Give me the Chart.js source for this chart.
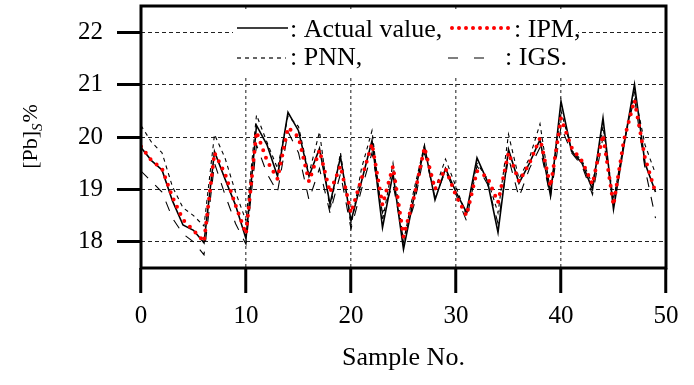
<!DOCTYPE html>
<html>
<head>
<meta charset="utf-8">
<script src="https://cdn.jsdelivr.net/npm/chart.js@4.4.1/dist/chart.umd.min.js"></script>
<style>
  html, body { margin: 0; padding: 0; background: #fff; }
  #chart { display: block; }
</style>
</head>
<body>
<canvas id="chart" width="694" height="385"></canvas>
<script>
const SERIF = '"Liberation Serif", "Times New Roman", serif';

// sample numbers (x)
const sampleNo = [0,1,2,3,4,5,6,7,8,9,10,11,12,13,14,15,16,17,18,19,20,21,22,23,24,
  25,26,27,28,29,30,31,32,33,34,35,36,37,38,39,40,41,42,43,44,45,46,47,48,49];

// [Pb]s % values
const actualValue = [19.80,19.55,19.37,18.78,18.32,18.22,17.98,19.72,19.20,18.70,
  18.06,20.22,19.85,19.25,20.47,20.12,19.25,19.78,18.72,19.62,
  18.40,19.15,19.93,18.27,19.30,17.86,18.85,19.82,18.80,19.40,
  18.95,18.56,19.60,19.15,18.18,19.76,19.12,19.50,19.95,18.88,
  20.68,19.73,19.50,19.00,20.36,18.62,19.85,21.00,19.50,18.95];
const ipmValues = [19.82,19.55,19.40,18.85,18.42,18.22,18.00,19.70,19.30,18.70,
  18.15,20.10,19.55,19.20,20.18,20.00,19.15,19.75,18.94,19.45,
  18.55,19.20,19.87,18.70,19.44,18.10,18.85,19.80,19.00,19.40,
  18.88,18.50,19.35,19.23,18.75,19.70,19.15,19.50,19.98,19.05,
  20.36,19.80,19.54,19.10,20.04,18.70,19.95,20.70,19.60,18.94];
const pnnValues = [20.22,19.90,19.70,19.05,18.65,18.50,18.30,20.05,19.60,18.95,
  18.40,20.42,19.90,19.40,20.40,20.20,19.30,20.10,18.60,19.70,
  18.30,19.40,20.12,18.40,19.50,18.00,19.00,19.85,19.00,19.58,
  19.05,18.50,19.50,19.20,18.55,20.05,19.20,19.60,20.25,18.95,
  20.50,19.75,19.55,19.10,20.20,18.80,19.90,20.85,19.85,19.30];
const igsValues = [19.35,19.15,18.95,18.45,18.15,18.00,17.75,19.50,18.90,18.35,
  17.95,19.85,19.30,18.95,20.10,19.70,18.80,19.40,18.55,19.30,
  18.25,19.00,19.70,18.55,19.10,18.05,18.70,19.70,18.85,19.35,
  18.90,18.40,19.45,19.10,18.35,19.60,18.85,19.40,19.80,18.85,
  20.20,19.70,19.45,18.90,20.00,18.75,19.90,20.75,19.40,18.45];

const xTicks = [0, 10, 20, 30, 40, 50];
const yTicks = [18, 19, 20, 21, 22];

function pts(arr) { return sampleNo.map((n, i) => ({ x: n, y: arr[i] })); }

// thick frame round the plot
const framePlugin = {
  id: 'frame',
  afterDatasetsDraw(chart) {
    const { ctx, chartArea: a } = chart;
    ctx.save();
    ctx.strokeStyle = '#000';
    ctx.lineWidth = 3;
    ctx.setLineDash([]);
    ctx.strokeRect(a.left, a.top, a.right - a.left, a.bottom - a.top);
    ctx.restore();
  }
};

// legend box inside the plot, plus the axis titles
const textPlugin = {
  id: 'texts',
  afterDraw(chart) {
    const c = chart.ctx;
    const a = chart.chartArea;
    c.save();
    c.fillStyle = '#fff';
    c.fillRect(233, 12, 345, 63);

    function sample(x0, x1, y, dash, width, color, cap) {
      c.beginPath();
      c.strokeStyle = color;
      c.lineWidth = width;
      c.lineCap = cap || 'butt';
      c.setLineDash(dash);
      c.moveTo(x0, y); c.lineTo(x1, y);
      c.stroke();
    }
    sample(237, 288, 28, [], 1.5, '#000');
    sample(452, 512, 28, [0, 7], 4, '#ff0000', 'round');
    sample(237, 286, 58, [4, 4], 1.2, '#000');
    sample(448, 486, 58, [10, 16], 1.2, '#000');

    c.setLineDash([]);
    c.fillStyle = '#000';
    c.font = '26px ' + SERIF;
    c.textBaseline = 'alphabetic';
    c.textAlign = 'left';
    c.fillText(': Actual value,', 290, 37);
    c.fillText(': IPM,', 514, 37);
    c.fillText(': PNN,', 290, 65);
    c.fillText(': IGS.', 505, 65);

    // x title
    c.textAlign = 'center';
    c.textBaseline = 'middle';
    c.fillText('Sample No.', (a.left + a.right) / 2, 358);

    // y title [Pb]S% rotated, S as italic subscript
    c.translate(37, 137);
    c.rotate(-Math.PI / 2);
    c.textAlign = 'left';
    c.textBaseline = 'alphabetic';
    const big = '22px ' + SERIF, small = 'italic 15px ' + SERIF;
    c.font = big; const w1 = c.measureText('[Pb]').width;
    c.font = small; const w2 = c.measureText('S').width;
    c.font = big; const w3 = c.measureText('%').width;
    let x = -(w1 + w2 + w3) / 2;
    c.font = big; c.fillText('[Pb]', x, 0); x += w1;
    c.font = small; c.fillText('S', x, 5); x += w2 + 1;
    c.font = big; c.fillText('%', x, 0);
    c.restore();
  }
};

const ctx = document.getElementById('chart').getContext('2d');
new Chart(ctx, {
  type: 'line',
  data: {
    datasets: [
      { label: 'IPM', data: pts(ipmValues), borderColor: '#ff0000', borderWidth: 4,
        borderDash: [0, 8], borderCapStyle: 'round', pointRadius: 0, order: 0 },
      { label: 'Actual value', data: pts(actualValue), borderColor: '#000', borderWidth: 1.6,
        pointRadius: 0, order: 1 },
      { label: 'PNN', data: pts(pnnValues), borderColor: '#000', borderWidth: 1.1,
        borderDash: [4, 4], pointRadius: 0, order: 2 },
      { label: 'IGS', data: pts(igsValues), borderColor: '#000', borderWidth: 1.1,
        borderDash: [10, 10], pointRadius: 0, order: 3 }
    ]
  },
  options: {
    responsive: false,
    devicePixelRatio: 1,
    animation: false,
    layout: { padding: { top: 6, right: 28, left: 0, bottom: 0 } },
    plugins: { legend: { display: false }, tooltip: { enabled: false } },
    elements: { line: { tension: 0, fill: false } },
    scales: {
      x: {
        type: 'linear', min: 0, max: 50,
        afterBuildTicks: s => { s.ticks = xTicks.map(v => ({ value: v })); },
        afterFit: s => { s.height = 117; s.paddingLeft = 0; s.paddingRight = 0; },
        ticks: { color: '#000', font: { family: SERIF, size: 25 }, padding: 8, maxRotation: 0, autoSkip: false },
        grid: {
          color: c => (c.tick && (c.tick.value === 0 || c.tick.value === 50)) ? 'rgba(0,0,0,0)' : '#666',
          lineWidth: 1.5, tickLength: 25, tickWidth: 3, tickColor: '#000', tickBorderDash: []
        },
        border: { display: false, dash: [3, 3] }
      },
      y: {
        type: 'linear', min: 17.5, max: 22.5,
        afterBuildTicks: s => { s.ticks = yTicks.map(v => ({ value: v })); },
        afterFit: s => { s.width = 141; s.paddingTop = 0; s.paddingBottom = 0; },
        ticks: { color: '#000', font: { family: SERIF, size: 25 }, padding: 14 },
        grid: {
          color: '#222', lineWidth: 1, tickLength: 24, tickWidth: 3, tickColor: '#000', tickBorderDash: []
        },
        border: { display: false, dash: [4, 3] }
      }
    }
  },
  plugins: [framePlugin, textPlugin]
});
</script>
</body>
</html>
